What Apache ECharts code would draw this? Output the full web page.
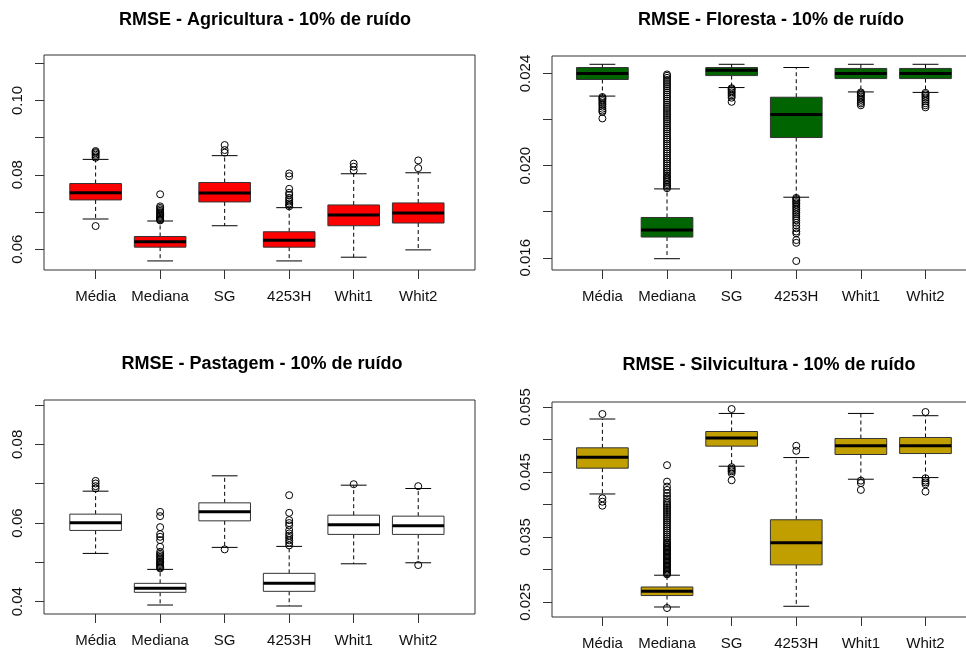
<!DOCTYPE html>
<html><head><meta charset="utf-8">
<script src="https://cdn.jsdelivr.net/npm/echarts@6/dist/echarts.min.js"></script>
<style>html,body{margin:0;padding:0;background:#fff}#c{width:966px;height:655px}</style>
</head><body><div id="c"></div>
<script>
// ---------- DATA ----------
const categories = ["Média", "Mediana", "SG", "4253H", "Whit1", "Whit2"];
const titles = [
  "RMSE - Agricultura - 10% de ruído",
  "RMSE - Floresta - 10% de ruído",
  "RMSE - Pastagem - 10% de ruído",
  "RMSE - Silvicultura - 10% de ruído"
];

// [lower whisker, Q1, median, Q3, upper whisker]
const agriculturaStats = [
  [0.06811, 0.07324, 0.07514, 0.07765, 0.08414],
  [0.05684, 0.06054, 0.06197, 0.06341, 0.06757],
  [0.06630, 0.07270, 0.07510, 0.07792, 0.08514],
  [0.05684, 0.06054, 0.06243, 0.06468, 0.07116],
  [0.05784, 0.06630, 0.06919, 0.07189, 0.08027],
  [0.05981, 0.06703, 0.06973, 0.07243, 0.08054]
];
const agriculturaOutliers = [
  [0.06622, 0.08459, 0.08500, 0.08540, 0.08580, 0.08610, 0.08638],
  [0.07476, 0.07151, 0.07110, 0.07070, 0.07030, 0.06995, 0.06960, 0.06930, 0.06900, 0.06870, 0.06840, 0.06810, 0.06790, 0.06773],
  [0.08800, 0.08665, 0.08595],
  [0.08035, 0.07962, 0.07622, 0.07514, 0.07460, 0.07380, 0.07330, 0.07280, 0.07230, 0.07190, 0.07151],
  [0.08300, 0.08216, 0.08116],
  [0.08386, 0.08178]
];

const florestaStats = [
  [0.02302, 0.02374, 0.02400, 0.02426, 0.02440],
  [0.01596, 0.01690, 0.01721, 0.01775, 0.01899],
  [0.02339, 0.02391, 0.02414, 0.02426, 0.02440],
  [0.01863, 0.02122, 0.02222, 0.02297, 0.02426],
  [0.02320, 0.02378, 0.02400, 0.02422, 0.02440],
  [0.02318, 0.02378, 0.02400, 0.02422, 0.02440]
];
const florestaOutliers = [
  [0.02298, 0.02293, 0.02287, 0.02280, 0.02272, 0.02265, 0.02256, 0.02247, 0.02239, 0.02233, 0.02205],
  [0.01902, 0.01908, 0.01915, 0.01921, 0.01929, 0.01936, 0.01944, 0.01951, 0.01958, 0.01967,
   0.01975, 0.01984, 0.01992, 0.02001, 0.02010, 0.02018, 0.02027, 0.02035, 0.02044, 0.02053,
   0.02061, 0.02070, 0.02079, 0.02088, 0.02096, 0.02105, 0.02114, 0.02122, 0.02131, 0.02140,
   0.02149, 0.02158, 0.02166, 0.02175, 0.02184, 0.02193, 0.02202, 0.02211, 0.02220, 0.02228,
   0.02237, 0.02246, 0.02255, 0.02264, 0.02273, 0.02282, 0.02291, 0.02300, 0.02309, 0.02318,
   0.02327, 0.02336, 0.02345, 0.02354, 0.02363, 0.02372, 0.02381, 0.02390, 0.02396],
  [0.02336, 0.02331, 0.02325, 0.02318, 0.02311, 0.02303, 0.02295, 0.02277],
  [0.01860, 0.01855, 0.01849, 0.01842, 0.01836, 0.01829, 0.01821, 0.01814, 0.01806, 0.01798,
   0.01790, 0.01781, 0.01772, 0.01763, 0.01752, 0.01741, 0.01728, 0.01714, 0.01706, 0.01677, 0.01665, 0.01586],
  [0.02318, 0.02313, 0.02307, 0.02300, 0.02293, 0.02285, 0.02277, 0.02270, 0.02262],
  [0.02316, 0.02310, 0.02303, 0.02296, 0.02288, 0.02280, 0.02271, 0.02262, 0.02253]
];

const pastagemStats = [
  [0.05228, 0.05812, 0.06005, 0.06226, 0.06810],
  [0.03916, 0.04239, 0.04340, 0.04467, 0.04822],
  [0.05381, 0.06056, 0.06284, 0.06513, 0.07200],
  [0.03891, 0.04264, 0.04467, 0.04721, 0.05406],
  [0.04964, 0.05711, 0.05954, 0.06200, 0.06962],
  [0.04990, 0.05711, 0.05929, 0.06175, 0.06878]
];
const pastagemOutliers = [
  [0.07071, 0.07005, 0.06937, 0.06878],
  [0.06284, 0.06175, 0.05896, 0.05718, 0.05650, 0.05566, 0.05396, 0.05269, 0.05220, 0.05180,
   0.05140, 0.05100, 0.05060, 0.05020, 0.04990, 0.04960, 0.04930, 0.04900, 0.04870, 0.04848],
  [0.05330],
  [0.06708, 0.06259, 0.06074, 0.06000, 0.05940, 0.05820, 0.05736, 0.05680, 0.05620, 0.05560, 0.05500, 0.05431],
  [0.06987],
  [0.06937, 0.04931]
];

const silviculturaStats = [
  [0.04162, 0.04559, 0.04728, 0.04872, 0.05315],
  [0.02423, 0.02599, 0.02665, 0.02731, 0.02912],
  [0.04589, 0.04898, 0.05022, 0.05123, 0.05401],
  [0.02434, 0.03071, 0.03410, 0.03765, 0.04722],
  [0.04389, 0.04769, 0.04903, 0.05015, 0.05401],
  [0.04414, 0.04784, 0.04903, 0.05031, 0.05366]
];
const silviculturaOutliers = [
  [0.05392, 0.04096, 0.04043, 0.03981],
  [0.02407, 0.04605, 0.04352, 0.04275, 0.04224, 0.04173, 0.04131, 0.04090, 0.04050, 0.04020,
   0.03990, 0.03960, 0.03930, 0.03900, 0.03870, 0.03840, 0.03810, 0.03780, 0.03750, 0.03720,
   0.03690, 0.03660, 0.03630, 0.03600, 0.03570, 0.03540, 0.03510, 0.03480, 0.03450, 0.03420,
   0.03400, 0.03380, 0.03360, 0.03340, 0.03320, 0.03300, 0.03280, 0.03260, 0.03240, 0.03220,
   0.03200, 0.03180, 0.03160, 0.03140, 0.03120, 0.03100, 0.03080, 0.03060, 0.03040, 0.03020,
   0.03000, 0.02980, 0.02960, 0.02940, 0.02925],
  [0.05469, 0.04574, 0.04550, 0.04530, 0.04510, 0.04481, 0.04373],
  [0.04903, 0.04826],
  [0.04367, 0.04330, 0.04224],
  [0.05423, 0.04404, 0.04367, 0.04340, 0.04312, 0.04198]
];

const agriculturaTicks = [0.06, 0.07, 0.08, 0.09, 0.10, 0.11];
const agriculturaTickLabels = [0.06, 0.08, 0.10];
const florestaTicks = [0.016, 0.018, 0.020, 0.022, 0.024];
const florestaTickLabels = [0.016, 0.020, 0.024];
const pastagemTicks = [0.04, 0.05, 0.06, 0.07, 0.08, 0.09];
const pastagemTickLabels = [0.04, 0.06, 0.08];
const silviculturaTicks = [0.025, 0.030, 0.035, 0.040, 0.045, 0.050, 0.055];
const silviculturaTickLabels = [0.025, 0.035, 0.045, 0.055];

// ---------- LAYOUT / STYLE ----------
const FONT = "Liberation Sans, Arial, sans-serif";
const panels = [
  {stats: agriculturaStats, outliers: agriculturaOutliers, ticks: agriculturaTicks, labels: agriculturaTickLabels, dec: 2,
   color: "#FF0000", grid: {left: 44, top: 55, width: 431, height: 215}, x: [0.2, 6.88], y: [0.0544, 0.1122], titleX: 265, titleY: 11},
  {stats: florestaStats, outliers: florestaOutliers, ticks: florestaTicks, labels: florestaTickLabels, dec: 3,
   color: "#006400", grid: {left: 552, top: 56, width: 431, height: 214}, x: [0.22, 6.89], y: [0.01547, 0.02476], titleX: 771, titleY: 11},
  {stats: pastagemStats, outliers: pastagemOutliers, ticks: pastagemTicks, labels: pastagemTickLabels, dec: 2,
   color: "#FFFFFF", grid: {left: 44, top: 400, width: 431, height: 214}, x: [0.2, 6.88], y: [0.03688, 0.09127], titleX: 262, titleY: 355},
  {stats: silviculturaStats, outliers: silviculturaOutliers, ticks: silviculturaTicks, labels: silviculturaTickLabels, dec: 3,
   color: "#C29F00", grid: {left: 552, top: 402, width: 431, height: 215}, x: [0.22, 6.89], y: [0.02269, 0.05577], titleX: 769, titleY: 356}
];

function makeRender(fill) {
  return function (params, api) {
    const x = api.value(0);
    const lo = api.value(1), q1 = api.value(2), med = api.value(3), q3 = api.value(4), hi = api.value(5);
    const w = api.size([0.8, 0])[0];
    const cx = api.coord([x, med])[0];
    const yLo = api.coord([x, lo])[1];
    const yQ1 = api.coord([x, q1])[1];
    const yMed = api.coord([x, med])[1];
    const yQ3 = api.coord([x, q3])[1];
    const yHi = api.coord([x, hi])[1];
    const dash = {stroke: "#000", lineWidth: 1, lineDash: [4, 3]};
    const solid = {stroke: "#000", lineWidth: 1};
    return {
      type: "group",
      children: [
        {type: "line", shape: {x1: cx, y1: yQ3, x2: cx, y2: yHi}, style: dash},
        {type: "line", shape: {x1: cx, y1: yQ1, x2: cx, y2: yLo}, style: dash},
        {type: "line", shape: {x1: cx - w / 4, y1: yHi, x2: cx + w / 4, y2: yHi}, style: solid},
        {type: "line", shape: {x1: cx - w / 4, y1: yLo, x2: cx + w / 4, y2: yLo}, style: solid},
        {type: "rect", shape: {x: cx - w / 2, y: yQ3, width: w, height: yQ1 - yQ3},
          style: {fill: fill, stroke: "#333", lineWidth: 1}},
        {type: "line", shape: {x1: cx - w / 2, y1: yMed, x2: cx + w / 2, y2: yMed},
          style: {stroke: "#000", lineWidth: 3}}
      ]
    };
  };
}

const option = {
  animation: false,
  backgroundColor: "#fff",
  title: panels.map((p, i) => ({
    text: titles[i], left: p.titleX, top: p.titleY, textAlign: "center", padding: 0,
    textStyle: {fontFamily: FONT, fontSize: 18, fontWeight: "bold", color: "#000"}
  })),
  grid: panels.map(p => Object.assign({show: true, borderColor: "#333", borderWidth: 1, backgroundColor: "transparent",
    containLabel: false, outerBoundsMode: "none"}, p.grid)),
  xAxis: panels.map((p, i) => ({
    type: "value", gridIndex: i, min: p.x[0], max: p.x[1],
    splitLine: {show: false},
    axisLine: {show: false},
    axisTick: {show: true, length: 9, customValues: [1, 2, 3, 4, 5, 6], lineStyle: {color: "#333"}},
    axisLabel: {show: true, customValues: [1, 2, 3, 4, 5, 6], margin: 19,
      formatter: v => categories[Math.round(v) - 1] || "",
      fontFamily: FONT, fontSize: 15, color: "#111"}
  })),
  yAxis: panels.map((p, i) => ({
    type: "value", gridIndex: i, min: p.y[0], max: p.y[1],
    splitLine: {show: false},
    axisLine: {show: false},
    axisTick: {show: true, length: 9, customValues: p.ticks, lineStyle: {color: "#333"}},
    axisLabel: {show: true, customValues: p.labels, rotate: 90, margin: 19,
      formatter: v => Number(v).toFixed(p.dec),
      fontFamily: FONT, fontSize: 15, color: "#111"}
  })),
  series: []
};

panels.forEach((p, i) => {
  option.series.push({
    type: "custom", xAxisIndex: i, yAxisIndex: i,
    renderItem: makeRender(p.color),
    encode: {x: 0, y: [1, 2, 3, 4, 5]},
    data: p.stats.map((s, k) => [k + 1].concat(s)),
    z: 2
  });
  const pts = [];
  p.outliers.forEach((arr, k) => arr.forEach(v => pts.push([k + 1, v])));
  option.series.push({
    type: "scatter", xAxisIndex: i, yAxisIndex: i,
    symbol: "circle", symbolSize: 7,
    itemStyle: {color: "rgba(0,0,0,0)", borderColor: "#000", borderWidth: 1, opacity: 1},
    emphasis: {disabled: true},
    data: pts,
    z: 3
  });
});

const chart = echarts.init(document.getElementById("c"), null, {renderer: "canvas"});
chart.setOption(option);
</script>
</body></html>
